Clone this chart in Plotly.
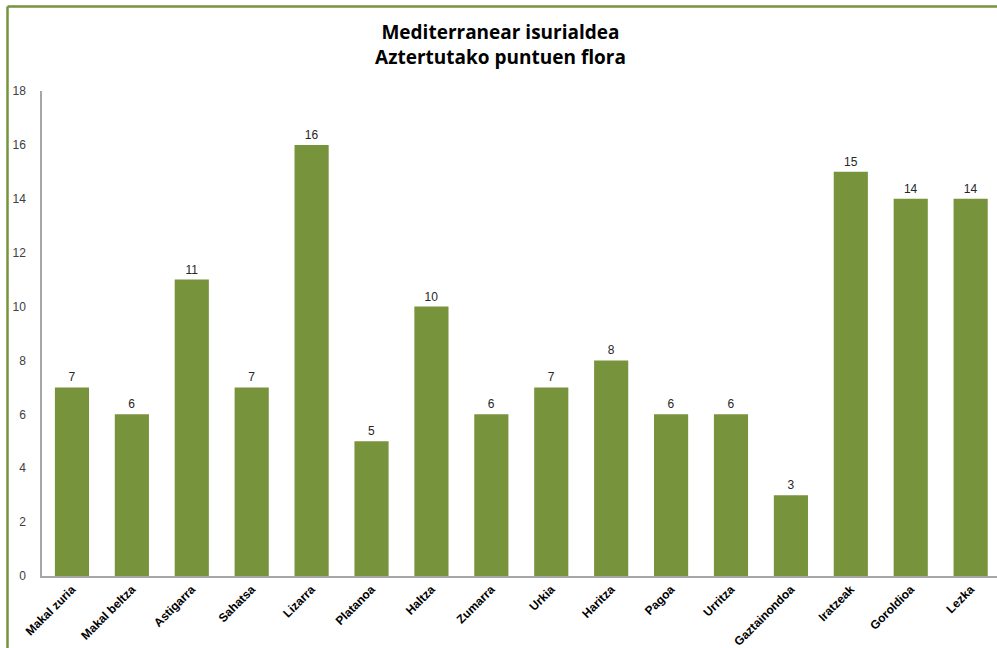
import plotly.graph_objects as go

species = ['Makal zuria', 'Makal beltza', 'Astigarra', 'Sahatsa', 'Lizarra', 'Platanoa',
           'Haltza', 'Zumarra', 'Urkia', 'Haritza', 'Pagoa', 'Urritza', 'Gaztainondoa',
           'Iratzeak', 'Goroldioa', 'Lezka']
counts = [7, 6, 11, 7, 16, 5, 10, 6, 7, 8, 6, 6, 3, 15, 14, 14]
y_ticks = [0, 2, 4, 6, 8, 10, 12, 14, 16, 18]

bar_color = '#77933C'
axis_color = '#A6A6A6'
text_color = '#404040'
font_family = 'Liberation Sans, Arial, sans-serif'

W, H = 997, 648
ml, mr, mt, mb = 42, 0, 91, 72

fig = go.Figure(go.Bar(
    x=species, y=counts,
    marker=dict(color=bar_color, line=dict(width=0)),
    width=0.57,
    text=counts, textposition='outside',
    textfont=dict(size=12, color='#262626', family=font_family),
    cliponaxis=False,
))

# green frame of the chart (right and bottom sides are cropped in the source)
pw = W - ml - mr
ph = H - mt - mb
fx0 = (7.5 - ml) / pw
fy1 = 1 + (mt - 6.5) / ph
fig.add_shape(type='line', xref='paper', yref='paper', x0=fx0, x1=fx0, y0=-mb / ph - 0.1, y1=fy1,
              line=dict(color=bar_color, width=2.5))
fig.add_shape(type='line', xref='paper', yref='paper', x0=fx0, x1=1.1, y0=fy1, y1=fy1,
              line=dict(color=bar_color, width=2.5))

fig.update_layout(
    width=W, height=H,
    margin=dict(l=ml, r=mr, t=mt, b=mb, autoexpand=False),
    paper_bgcolor='white', plot_bgcolor='white',
    title=dict(text='<b>Mediterranear isurialdea<br>Aztertutako puntuen flora</b>',
               x=0.502, xanchor='center', xref='container', y=1 - 39 / H, yanchor='middle', yref='container',
               font=dict(size=19, color='black', family='Open Sans, Liberation Sans, sans-serif'),
               ),
    showlegend=False,
    xaxis=dict(range=[-0.5, 15.44], showline=True, linecolor=axis_color, linewidth=1.5,
               tickangle=-45, showgrid=False, automargin=False,
               tickfont=dict(size=12, color='black', family='Liberation Sans, Arial, sans-serif', weight='bold')),
    yaxis=dict(range=[0, 18], tickvals=y_ticks, showline=True, linecolor=axis_color, linewidth=1.5,
               showgrid=False, zeroline=False, ticks='', ticklabelstandoff=12, automargin=False,
               tickfont=dict(size=12, color=text_color, family=font_family)),
)

fig.write_html('out.html', config={'displayModeBar': False},
               post_script="document.body.style.margin='0';document.body.style.overflow='hidden';")
